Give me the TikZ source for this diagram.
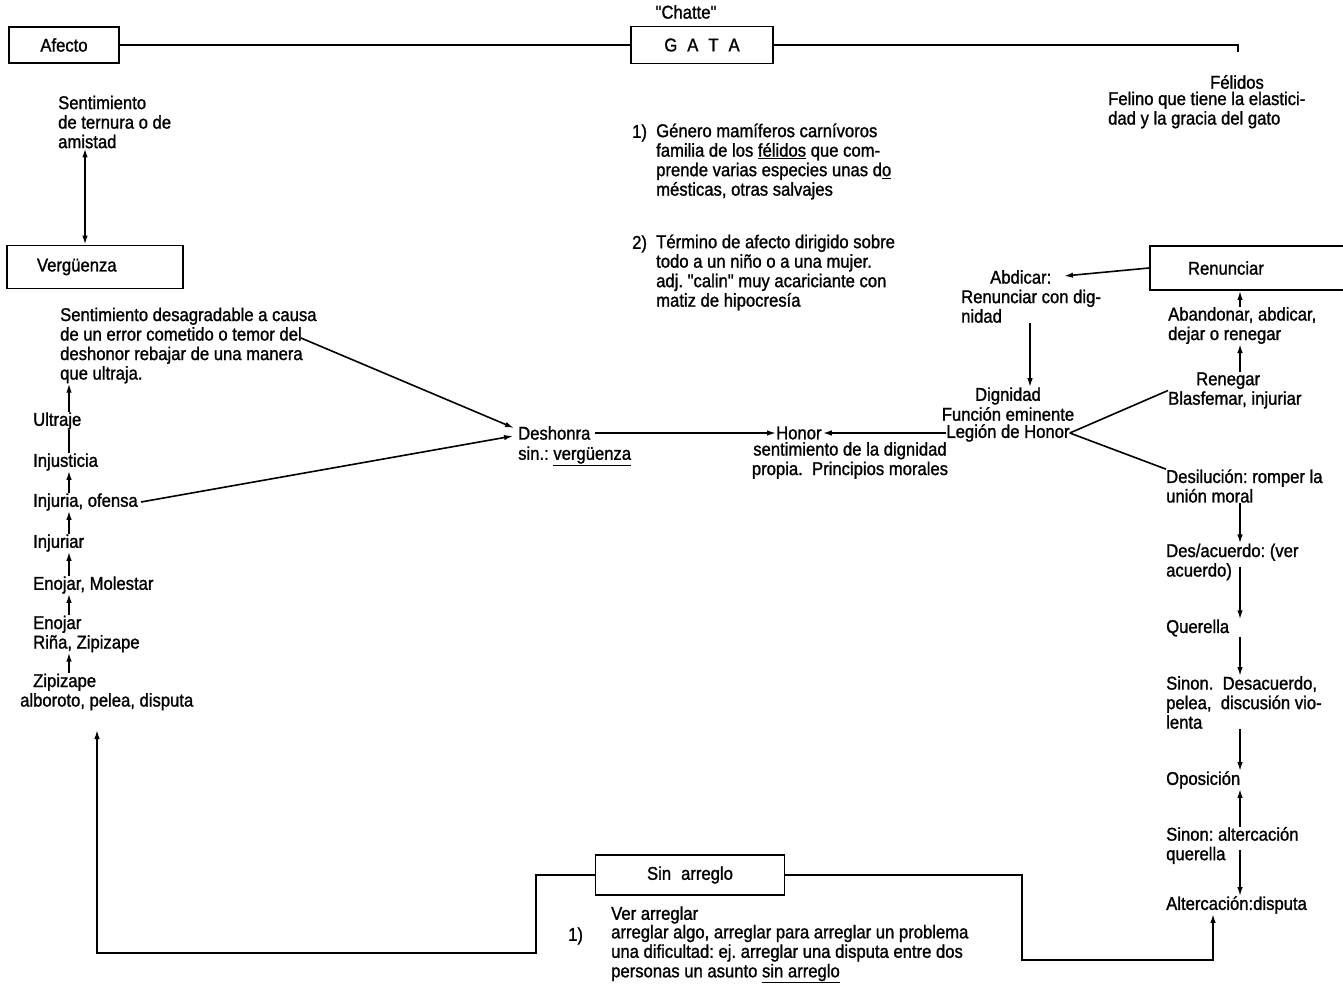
\documentclass[tikz,border=0pt]{standalone}
\usepackage{fontspec}
\setmainfont{Liberation Sans}[FakeStretch=0.9, FakeBold=1.2, Ligatures=TeXOff]
\usetikzlibrary{arrows.meta,calc}
\frenchspacing
\begin{document}
\begin{tikzpicture}[x=1pt,y=-1pt,
  every node/.style={font=\fontsize{18.5}{19.5}\selectfont, inner sep=0pt},
  txt/.style={align=left, anchor=west},
  ctxt/.style={align=center},
  framed/.style={draw, line width=1.8pt, inner sep=0pt},
  link/.style={line width=1.6pt},
  arr/.style={link, -{Latex[length=9pt,width=5.5pt]}},
  darr/.style={link, {Latex[length=9pt,width=5.5pt]}-{Latex[length=9pt,width=5.5pt]}}]
\useasboundingbox (0,0) rectangle (1343,983);
\fill[white] (0,0) rectangle (1343,983);

% ---- top row ----
\node[framed, minimum width=110pt, minimum height=36pt] (afecto) at (64,45) {Afecto};
\node (chatte) at (686,12) {"Chatte"};
\node[framed, minimum width=142pt, minimum height=37pt] (gata) at (702,45) {G\hspace{10pt}A\hspace{10pt}T\hspace{10pt}A};
\coordinate (felcorner) at (1238,45);
\node (felidos) at (1237,82) {Félidos};
\node[txt] (felino) at (1108,110) {Felino que tiene la elastici-\\dad y la gracia del gato};

\draw[link] (afecto.east) -- (gata.west);
\draw[link] (gata.east) -- (felcorner) -- ++(0,7);

% ---- GATA definitions ----
\node[txt] (num1) at (632,133) {1)};
\node[txt] (gdesc1) at (656,161.5) {Género mamíferos carnívoros\\familia de los \underline{félidos} que com-\\prende varias especies unas d\underline{o}\\mésticas, otras salvajes};
\node[txt] (num2) at (632,244) {2)};
\node[txt] (gdesc2) at (656,272.5) {Término de afecto dirigido sobre\\todo a un niño o a una mujer.\\adj. "calin" muy acariciante con\\matiz de hipocresía};

% ---- left column ----
\node[txt] (afdesc) at (58,122) {Sentimiento\\de ternura o de\\amistad};
\node[framed, minimum width=176pt, minimum height=43pt, text width=116pt, align=left] (verg) at (95,267) {Vergüenza};
\node[txt] (vdesc) at (60,345.5) {Sentimiento desagradable a causa\\de un error cometido o temor del\\deshonor rebajar de una manera\\que ultraja.};
\node[txt] (ultraje) at (33,421) {Ultraje};
\node[txt] (injusticia) at (33,462) {Injusticia};
\node[txt] (injuria) at (33,502) {Injuria, ofensa};
\node[txt] (injuriar) at (33,543) {Injuriar};
\node[txt] (enojarm) at (33,585) {Enojar, Molestar};
\node[txt] (enojar) at (33,634) {Enojar\\Riña, Zipizape};
\node[txt] (zipi) at (20,692) {\hspace*{13pt}Zipizape\\alboroto, pelea, disputa};

\coordinate (colA) at (85,0);
\coordinate (colL) at (69,0);
\draw[darr] (afdesc.south -| colA) -- (verg.north -| colA);
\draw[arr] (ultraje.north -| colL) -- (vdesc.south -| colL);
\draw[link] (injusticia.north -| colL) -- (ultraje.south -| colL);
\draw[arr] (injuria.north -| colL) -- (injusticia.south -| colL);
\draw[arr] (injuriar.north -| colL) -- (injuria.south -| colL);
\draw[arr] (enojarm.north -| colL) -- (injuriar.south -| colL);
\draw[arr] (enojar.north -| colL) -- (enojarm.south -| colL);
\draw[arr] (zipi.north -| colL) -- (enojar.south -| colL);

% ---- centre ----
\node[txt] (deshonra) at (518,433) {Deshonra};
\node[txt] (sinverg) at (518,456) {sin.: \underline{vergüenza}};
\node[txt] (honor) at (776,433) {Honor};
\node[ctxt] (honordesc) at (850,460.5) {sentimiento de la dignidad\\propia.~ Principios morales};

\coordinate (vd2) at (301,338);
\draw[arr] (vd2) -- ($(deshonra.west)+(-4,-5)$);
\draw[arr] ([xshift=3pt]injuria.east) -- ($(deshonra.west)+(-5,3)$);
\draw[arr] ([xshift=4pt]deshonra.east) -- (honor.west);

% ---- right side ----
\node[txt] (abdicar) at (961,296.5) {\hspace*{29pt}Abdicar:\\Renunciar con dig-\\nidad};
\node (dignidad) at (1008,396) {Dignidad};
\node (funcion) at (1008,414) {Función eminente};
\node (legion) at (1008,433) {Legión de Honor};
\node[framed, minimum width=200pt, minimum height=44pt, text width=124pt, align=left] (renunciar) at (1250,268) {Renunciar};
\node[txt] (abandonar) at (1168,325.5) {Abandonar, abdicar,\\dejar o renegar};
\node[txt] (renegar) at (1168,390.5) {\hspace*{28pt}Renegar\\Blasfemar, injuriar};
\node[txt] (desilucion) at (1166,486) {Desilución: romper la\\unión moral};
\node[txt] (desacuerdo) at (1166,562) {Des/acuerdo: (ver\\acuerdo)};
\node[txt] (querella) at (1166,628) {Querella};
\node[txt] (sinon1) at (1166,702.5) {Sinon.~ Desacuerdo,\\pelea,~ discusión vio-\\lenta};
\node[txt] (oposicion) at (1166,780) {Oposición};
\node[txt] (sinon2) at (1166,845.5) {Sinon: altercación\\querella};
\node[txt] (alterc) at (1166,905) {Altercación:disputa};

\coordinate (abdtip) at (1064,276);
\coordinate (colD) at (1030,0);
\coordinate (colR) at (1240,0);
\draw[arr] (legion.west) -- ([xshift=1pt]honor.east);
\draw[link] (legion.east) -- (renegar.west);
\draw[link] (legion.east) -- (desilucion.north west);
\draw[arr] (renunciar.west) -- (abdtip);
\draw[arr] (abdicar.south -| colD) -- (dignidad.north -| colD);
\draw[arr] (abandonar.north -| colR) -- (renunciar.south -| colR);
\draw[arr] (renegar.north -| colR) -- (abandonar.south -| colR);
\draw[arr] (desilucion.south -| colR) -- (desacuerdo.north -| colR);
\draw[arr] ($(desacuerdo.south -| colR)+(0,-14)$) -- (querella.north -| colR);
\draw[arr] (querella.south -| colR) -- (sinon1.north -| colR);
\draw[arr] (sinon1.south -| colR) -- (oposicion.north -| colR);
\draw[arr] (sinon2.north -| colR) -- (oposicion.south -| colR);
\draw[arr] ($(sinon2.south -| colR)+(0,-14)$) -- (alterc.north -| colR);

% ---- bottom ----
\node[framed, minimum width=189pt, minimum height=40pt] (sinarr) at (690,875) {Sin\hspace{10pt}arreglo};
\node[txt] (ver) at (611,915) {Ver arreglar};
\node[txt] (num3) at (568,936) {1)};
\node[txt] (arrdesc) at (611,954) {arreglar algo, arreglar para arreglar un problema\\una dificultad: ej. arreglar una disputa entre dos\\personas un asunto \underline{sin arreglo}};

\coordinate (loopL) at (536,953);
\coordinate (loopLend) at (97,953);
\coordinate (loopLtip) at (97,730);
\coordinate (loopR) at (1022,960);
\coordinate (loopRend) at (1213,960);
\draw[arr] (sinarr.west) -| (loopL) -- (loopLend) -- (loopLtip);
\draw[arr] (sinarr.east) -| (loopR) -- (loopRend) -- (loopRend |- alterc.south);
\end{tikzpicture}
\end{document}
